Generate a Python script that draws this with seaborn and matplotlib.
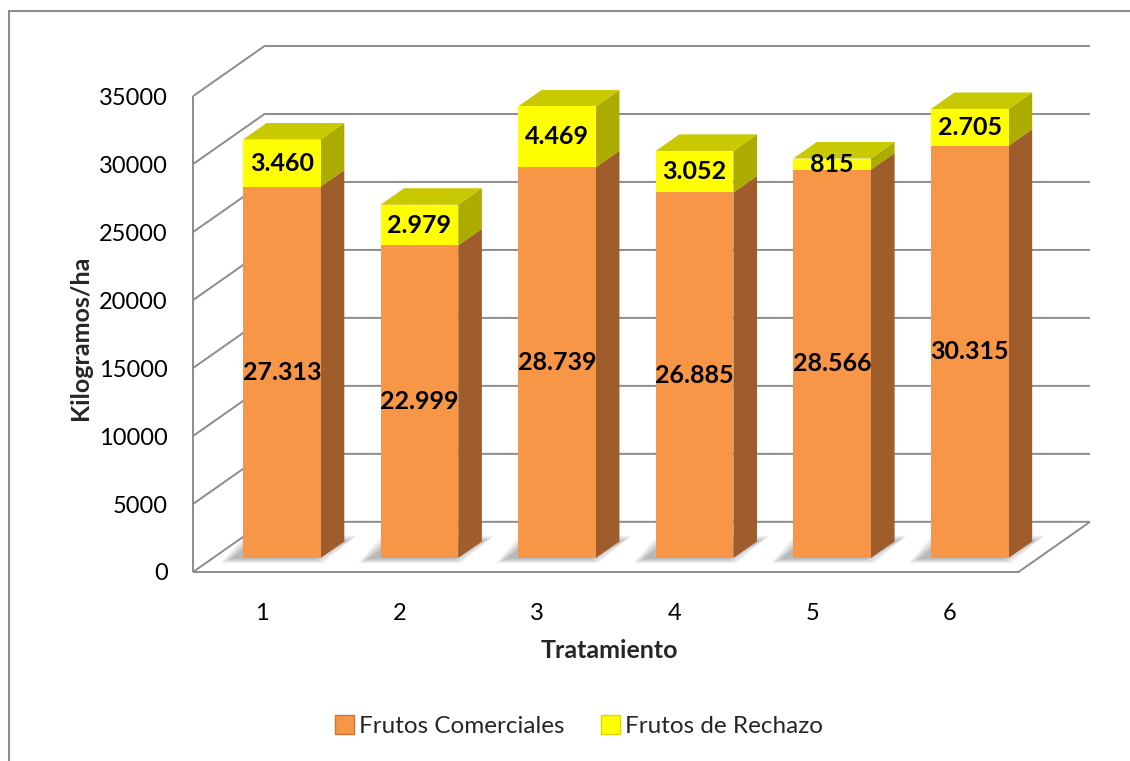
import matplotlib
matplotlib.use("Agg")
import numpy as np
import pandas as pd
import matplotlib.pyplot as plt
from matplotlib.patches import Polygon, Rectangle, Patch
import seaborn as sns

# ---- data -------------------------------------------------------------
tratamientos = ["1", "2", "3", "4", "5", "6"]
frutos_comerciales = [27313, 22999, 28739, 26885, 28566, 30315]
frutos_rechazo = [3460, 2979, 4469, 3052, 815, 2705]
y_ticks = [0, 5000, 10000, 15000, 20000, 25000, 30000, 35000]

serie_comercial = "Frutos Comerciales"
serie_rechazo = "Frutos de Rechazo"
x_title = "Tratamiento"
y_title = "Kilogramos/ha"

# ---- colours ----------------------------------------------------------
ORANGE = "#F79646"
ORANGE_SIDE = "#9E5D2B"
YELLOW = "#FFFF00"
YELLOW_SIDE = "#ABAB00"
YELLOW_TOP = "#C9C900"
GRID = "#8C8C8C"

sns.set_theme(style="white")
plt.rcParams["font.family"] = ["Lato", "DejaVu Sans"]

W, H = 1130, 761
fig = plt.figure(figsize=(W / 100, H / 100), dpi=100)
ax = fig.add_axes([193 / W, 1 - 572 / H, 897 / W, 526 / H])

# oblique "3-D" depth of the floor, in data units
DX = 0.52      # along the category axis
DY = 3690      # along the value axis
Z0 = 0.28      # depth of the bar front faces (0 = front edge, 1 = back wall)
ZB = 0.33      # depth of each bar
BAR_W = 0.565


def proj(x, y, d):
    """Map a point at floor depth d onto the bar front plane."""
    return x + (d - Z0) * DX, y + (d - Z0) * DY


ymax = y_ticks[-1]
x_left, x_right = -0.5, len(tratamientos) - 0.5

# ---- walls and floor ------------------------------------------------------
line_kw = dict(color=GRID, lw=1.4, solid_capstyle="butt", clip_on=False, zorder=1)
for v in y_ticks:
    (ax0, ay0), (ax1, ay1) = proj(x_left, v, 0), proj(x_left, v, 1)
    (bx1, by1) = proj(x_right, v, 1)
    ax.plot([ax0, ax1, bx1], [ay0, ay1, by1], **line_kw)
# front-left edge
p0, p1 = proj(x_left, 0, 0), proj(x_left, ymax, 0)
ax.plot([p0[0], p1[0]], [p0[1], p1[1]], **line_kw)
# front and right floor edges
f0, f1, f2 = proj(x_left, 0, 0), proj(x_right, 0, 0), proj(x_right, 0, 1)
ax.plot([f0[0], f1[0], f2[0]], [f0[1], f1[1], f2[1]], **line_kw)

# ---- stacked bars (front faces) ----------------------------------------
df = pd.DataFrame({
    x_title: tratamientos,
    serie_comercial: frutos_comerciales,
    serie_rechazo: frutos_rechazo,
})
sns.barplot(data=df, x=x_title, y=serie_comercial, order=tratamientos,
            color=ORANGE, saturation=1, width=BAR_W, errorbar=None,
            linewidth=0, edgecolor="none", zorder=4, ax=ax)
front_c = list(ax.patches)
sns.barplot(data=df, x=x_title, y=serie_rechazo, order=tratamientos,
            color=YELLOW, saturation=1, width=BAR_W, errorbar=None,
            bottom=np.asarray(frutos_comerciales), linewidth=0,
            edgecolor="none", zorder=4, ax=ax)
front_r = [p for p in ax.patches if p not in front_c]

ddx, ddy = ZB * DX, ZB * DY
for pc, pr in zip(front_c, front_r):
    xl = pc.get_x()
    xr = xl + pc.get_width()
    y0 = pc.get_y()
    y1 = y0 + pc.get_height()
    y2 = pr.get_y() + pr.get_height()

    # soft shadow on the floor, to the left of each bar
    for k in range(7):
        e = 0.012 * k
        ey = 180 * k
        ax.add_patch(Polygon([(xl - 0.09 - e, y0 - 60 - ey * 0.3),
                              (xr - 0.05 + e, y0 - 60 - ey * 0.3),
                              (xr + ddx + 0.02 + e, y0 + ddy + ey * 0.4),
                              (xl + ddx - 0.09 - e, y0 + ddy + ey * 0.4)],
                             fc="black", ec="none", alpha=0.045, zorder=2))

    ax.add_patch(Polygon([(xr, y0), (xr + ddx, y0 + ddy),
                          (xr + ddx, y1 + ddy), (xr, y1)],
                         fc=ORANGE_SIDE, ec="none", zorder=3))
    ax.add_patch(Polygon([(xr, y1), (xr + ddx, y1 + ddy),
                          (xr + ddx, y2 + ddy), (xr, y2)],
                         fc=YELLOW_SIDE, ec="none", zorder=3))
    ax.add_patch(Polygon([(xl, y2), (xl + ddx, y2 + ddy),
                          (xr + ddx, y2 + ddy), (xr, y2)],
                         fc=YELLOW_TOP, ec="none", zorder=3))


def fmt(v):
    return f"{v:,}".replace(",", ".")


for pc, pr, vc, vr in zip(front_c, front_r, frutos_comerciales, frutos_rechazo):
    cx = pc.get_x() + pc.get_width() / 2
    ax.text(cx, pc.get_y() + pc.get_height() / 2, fmt(vc), ha="center",
            va="center", fontsize=18, fontweight="bold", color="black", zorder=6)
    ax.text(cx, pr.get_y() + pr.get_height() / 2, fmt(vr), ha="center",
            va="center", fontsize=18, fontweight="bold", color="black", zorder=6)

# ---- axes, ticks, labels ----------------------------------------------------
ax.set_xlim(proj(x_left, 0, 0)[0], proj(x_right, 0, 1)[0])
ax.set_ylim(proj(0, 0, 0)[1], proj(0, ymax, 1)[1])
ax.set_xticks([proj(i, 0, 0)[0] for i in range(len(tratamientos))])
ax.set_xticklabels(tratamientos)
ax.set_yticks([proj(0, v, 0)[1] for v in y_ticks])
ax.set_yticklabels([str(v) for v in y_ticks])
ax.tick_params(axis="x", length=0, pad=22, labelsize=17, labelcolor="black")
ax.tick_params(axis="y", length=0, pad=18, labelsize=17, labelcolor="black")
ax.set_xlabel("")
ax.set_ylabel("")
for s in ax.spines.values():
    s.set_visible(False)
ax.set_facecolor("none")
ax.grid(False)

fig.text(609 / W, 1 - 650 / H, x_title, ha="center", va="center",
         fontsize=18, fontweight="bold")
fig.text(81 / W, 1 - 338 / H, y_title, ha="center", va="center",
         rotation=90, fontsize=18, fontweight="bold")

handles = [Patch(facecolor=ORANGE, edgecolor="#C8763A", label=serie_comercial),
           Patch(facecolor=YELLOW, edgecolor="#D9D900", label=serie_rechazo)]
fig.legend(handles=handles, loc="center", bbox_to_anchor=(579 / W, 1 - 726 / H),
           ncol=2, frameon=False, fontsize=17.5, handlelength=0.8,
           handleheight=0.8, handletextpad=0.2, columnspacing=1.5)

# chart-area border
fig.add_artist(Rectangle((9 / W, -0.05), 1.2, 1.05 - 11 / H,
                         transform=fig.transFigure, fill=False,
                         ec="#8C8C8C", lw=1.5))

fig.savefig("out.png", dpi=100, facecolor="white")
